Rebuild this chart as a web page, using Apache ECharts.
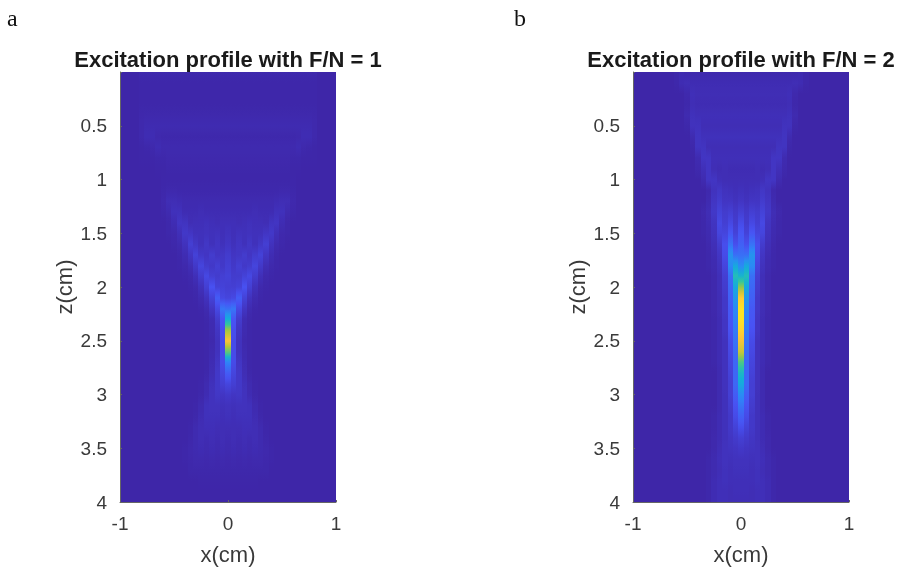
<!DOCTYPE html>
<html>
<head>
<meta charset="utf-8">
<script src="https://cdn.jsdelivr.net/npm/echarts@6/dist/echarts.min.js"></script>
<style>
html,body{margin:0;padding:0;background:#fff}
#chart{width:900px;height:570px;filter:blur(0.6px)}
</style>
</head>
<body>
<div id="chart"></div>
<script>
// depth of each row (cm); every row below is centred on x = 0 with 0.05 cm columns
const depthRows = [0,0.1,0.2,0.3,0.4,0.5,0.6,0.7,0.8,0.9,1,1.1,1.2,1.3,1.4,1.5,1.6,1.7,1.8,1.9,2,2.1,2.2,2.3,2.4,2.5,2.6,2.7,2.8,2.9,3,3.1,3.2,3.3,3.4,3.5,3.6,3.7,3.8,3.9,4];
const columnStep = 0.05;
const xTicks = [-1,0,1];
const titles = ['Excitation profile with F/N = 1','Excitation profile with F/N = 2'];
const panelLetters = ['a','b'];
const parula = ['#3e26a8','#4852f4','#2d87f7','#12b1d6','#37c897','#abc739','#fec338','#f9fb14'];

const profileA = [
[1,1,1,1,1,1,1,1,1,1,1,1,1,1,1,1,1,1,1,1,1,1,1,1,1,1,1,1,1,1,1,1,1],
[.3,.3,.3,.3,.3,.3,.3,.3,.3,.3,.3,.3,.3,.3,.3,.3,.3,.3,.3,.3,.3,.3,.3,.3,.3,.3,.3,.3,.3,.3,.3,.3,.3],
[.3,.3,.3,.3,.3,.3,.3,.3,.3,.3,.3,.3,.3,.3,.3,.3,.3,.3,.3,.3,.3,.3,.3,.3,.3,.3,.3,.3,.3,.3,.3,.3,.3],
[.3,.3,.3,.3,.3,.3,.3,.3,.3,.3,.3,.3,.3,.3,.3,.3,.3,.3,.3,.3,.3,.3,.3,.3,.3,.3,.3,.3,.3,.3,.3,.3,.3],
[.8,1,1,1,1,1,1,1,1,1,1,1,1,1,1,1,1,1,1,1,1,1,1,1,1,1,1,1,1,1,1,1,.8],
[1,1.7,1.7,1.7,1.7,1.7,1.7,1.7,1.7,1.7,1.7,1.7,1.7,1.7,1.7,1.7,1.7,1.7,1.7,1.7,1.7,1.7,1.7,1.7,1.7,1.7,1.7,1.7,1.7,1.7,1.7,1.7,1],
[1,2,2,1,.7,.7,.7,.7,.7,.7,.7,.7,.7,.7,.7,.7,.7,.7,.7,.7,.7,.7,.7,.7,.7,.7,.7,.7,.7,1,2,2,1],
[.2,.5,1,2,1.4,1.4,1.4,1.4,1.4,1.4,1.4,1.4,1.4,1.4,1.4,1.4,1.4,1.4,1.4,1.4,1.4,1.4,1.4,1.4,1.4,1.4,1.4,1.4,1.4,2,1,.5,.2],
[.2,.2,.2,.5,.5,1,1,1,1,1,1,1,1,1,1,1,1,1,1,1,1,1,1,1,1,1,1,1,.5,.5,.2,.2,.2],
[.2,.2,.5,.5,.5,.5,.5,.5,.5,.5,.5,.5,.5,.5,.5,.5,.5,.5,.5,.5,.5,.5,.5,.5,.5,.2,.2],
[.3,.3,.3,.3,.3,.3,.3,.3,.3,.3,.3,.3,.3,.3,.3,.3,.3,.3,.3,.3,.3,.3,.3,.3,.3],
[.5,1,1,.7,.7,.7,.7,.7,.7,.7,.7,.7,.7,.7,.7,.7,.7,.7,.7,.7,.7,.7,1,1,.5],
[1,2.5,2.5,2,1.5,1.5,1.5,1.5,1.5,1.5,1.5,1.5,1.5,1.5,1.5,1.5,1.5,1.5,1.5,1.5,1.5,2,2.5,2.5,1],
[.5,1.5,3.5,3.5,2,2,2,2.5,2,2,2,2,2,2,2,2,2,2.5,2,2,2,3.5,3.5,1.5,.5],
[.5,2,5,4.5,2.5,3,3,3.5,3,2.5,3,3,3,2.5,3,3.5,3,3,2.5,4.5,5,2,.5],
[.5,1,3,6,5,3.5,3.5,4,3.5,4,3,4,3,4,3.5,4,3.5,3.5,5,6,3,1,.5],
[.5,1.5,4,8,5.5,3.5,5.5,3.5,5,3.5,5,3.5,5,3.5,5.5,3.5,5.5,8,4,1.5,.5],
[.5,2,5,9,6,5,7,5,5.5,7,5,5.5,7,5,7,9,5,2,.5],
[.3,1,2.5,6,10,7,6,8,6,8,6,8,6,7,10,6,2.5,1,.3],
[.3,1,3,7,11,8,7,8,9,7,7,9,11,7,3,1,.3],
[.3,1,3.5,8,14,9,9,8,8,9,14,8,3.5,1,.3],
[.3,1.5,4,9,17,11,10,11,17,9,4,1.5,.3],
[.3,1.5,5,11,24,22,24,11,5,1.5,.3],
[.5,2,7,15,42,15,7,2,.5],
[.3,1.5,5,13,70,13,5,1.5,.3],
[.3,1,4,12,85,12,4,1,.3],
[.3,1.5,4,12,62,12,4,1.5,.3],
[.3,2,5,12,28,12,5,2,.3],
[.5,2.5,6,10,17,10,6,2.5,.5],
[.3,1.5,3.5,6,8,10,8,6,3.5,1.5,.3],
[.5,2,4,5.5,5,6,5,5.5,4,2,.5],
[.3,1.5,3.5,4,4,3.5,4,3.5,4,4,3.5,1.5,.3],
[.5,2,3.5,3.5,3.5,3,3.5,3,3.5,3.5,3.5,2,.5],
[.3,1.5,2.5,3,3,2.5,2.5,2.5,2.5,2.5,3,3,2.5,1.5,.3],
[.5,1.5,2.5,2,2.5,2,2.5,2,2.5,2,2.5,2,2.5,1.5,.5],
[.3,1,1.5,2,1.5,2,1.5,2,1.5,2,1.5,2,1.5,2,1.5,1,.3],
[.3,.8,1.2,1.2,1,1.2,1,1.2,1,1.2,1,1.2,1,1.2,1.2,.8,.3],
[.5,.5,.5,.5,.5,.5,.5,.5,.5,.5,.5,.5,.5,.5,.5],
[.2,.2,.2,.2,.2,.2,.2,.2,.2,.2,.2],
[0],
[0]
];

const profileB = [
[.5,1.5,1,1,1,1,1,1,1,1,1,1,1,1,1,1,1,1,1,1,1,1,1,1.5,.5],
[.5,2,2.5,2,2,2,2,2,2,2,2,2,2,2,2,2,2,2,2,2,2,2,2.5,2,.5],
[1,3,2.5,2.5,2.5,2.5,2.5,2.5,2.5,2.5,2.5,2.5,2.5,2.5,2.5,2.5,2.5,2.5,2.5,3,1],
[.5,2.5,2,2,2,2,2,2,2,2,2,2,2,2,2,2,2,2,2,2.5,.5],
[1.5,3.5,3,3,3,3,3,3,3,3,3,3,3,3,3,3,3,3,3,3.5,1.5],
[.5,4,4,2.5,2.5,2.5,2.5,2.5,2.5,2.5,2.5,2.5,2.5,2.5,2.5,2.5,2.5,2.5,4,4,.5],
[1.5,4.5,3.5,3.5,3.5,3.5,3.5,3.5,3.5,3.5,3.5,3.5,3.5,3.5,3.5,3.5,3.5,4.5,1.5],
[.5,4.5,4.5,2.5,2.5,2.5,2.5,2.5,2.5,2.5,2.5,2.5,2.5,2.5,2.5,2.5,4.5,4.5,.5],
[1.5,5,5,3,3,3,3,3,3,3,3,3,3,3,5,5,1.5],
[1,3,5,2.5,2,2.5,2,2,2,2,2,2.5,2,2.5,5,3,1],
[1.5,5,5,3,2.5,2.5,2.5,2.5,2.5,2.5,2.5,3,5,5,1.5],
[1,4,5.5,4,3.5,3,3.5,3,3.5,4,5.5,4,1],
[1.5,5,7,5,5,4,5,4,5,5,7,5,1.5],
[1,2.5,6,9,7,8,6,8,6,8,7,9,6,2.5,1],
[.5,2,4.5,11,8,11,7,12,7,11,8,11,4.5,2,.5],
[.5,1.5,4,10,10,15,9,15,9,15,10,10,4,1.5,.5],
[1,3,7,13,23,13,18,13,23,13,7,3,1],
[.5,2,5,12,33,22,22,22,33,12,5,2,.5],
[.5,1.5,4,10,30,40,30,40,30,10,4,1.5,.5],
[1,3,8,22,50,45,50,22,8,3,1],
[1,3,7,20,40,68,40,20,7,3,1],
[1,2.5,6,18,34,88,34,18,6,2.5,1],
[1,2.5,6,16,29,94,29,16,6,2.5,1],
[.5,2,5,15,27,94,27,15,5,2,.5],
[.5,2,5,14,25,90,25,14,5,2,.5],
[.5,2,4,12,23,84,23,12,4,2,.5],
[.5,2,4,11,21,76,21,11,4,2,.5],
[.5,2,4,10,20,60,20,10,4,2,.5],
[1.5,4,9,20,47,20,9,4,1.5],
[1.5,4,8,20,40,20,8,4,1.5],
[1.5,3.5,8,17,30,17,8,3.5,1.5],
[1.5,3.5,7,14,24,14,7,3.5,1.5],
[.5,2,3.5,6,12,18,12,6,3.5,2,.5],
[.5,2,3.5,6,9,13,9,6,3.5,2,.5],
[1,2,3.5,5,6.5,8,6.5,5,3.5,2,1],
[1,2.5,4,4.5,5,6,5,4.5,4,2.5,1],
[.5,1.5,3,4,3.5,4,4,4,3.5,4,3,1.5,.5],
[.5,1.5,2.5,3.5,3,3.5,3.5,3.5,3,3.5,2.5,1.5,.5],
[.5,2,3,3.5,3,3,3,3,3,3.5,3,2,.5],
[.5,2,3,3,2.5,3,3,3,2.5,3,3,2,.5],
[.5,2,3,3,2.5,2.5,2.5,2.5,2.5,3,3,2,.5]
];

function buildCells(rows) {
  const cells = [];
  for (let i = 0; i < rows.length - 1; i++) {
    const a = rows[i], b = rows[i + 1];
    const ha = (a.length - 1) / 2, hb = (b.length - 1) / 2, h = Math.max(ha, hb);
    for (let k = -h; k <= h; k++) {
      const va = Math.abs(k) <= ha ? a[k + ha] : 0;
      const vb = Math.abs(k) <= hb ? b[k + hb] : 0;
      if (va === 0 && vb === 0) continue;
      cells.push([k * columnStep, depthRows[i], depthRows[i + 1], va, vb]);
    }
  }
  return cells;
}
const colorOf = v => echarts.color.lerp(v / 100, parula);

function renderCell(params, api) {
  const x = api.value(0), z0 = api.value(1), z1 = api.value(2), v0 = api.value(3), v1 = api.value(4);
  const p0 = api.coord([x - columnStep / 2, z0]);
  const p1 = api.coord([x + columnStep / 2, z1]);
  const left = Math.round(p0[0]), right = Math.round(p1[0]), top = Math.round(p0[1]), bottom = Math.round(p1[1]);
  return {
    type: 'rect',
    shape: { x: left, y: top, width: right - left, height: bottom - top },
    style: {
      fill: new echarts.graphic.LinearGradient(0, 0, 0, 1, [
        { offset: 0, color: colorOf(v0) },
        { offset: 0.5, color: colorOf((v0 + v1) / 2) },
        { offset: 1, color: colorOf(v1) }
      ])
    }
  };
}

const plotLeft = [120, 633];
const plotCentre = [228, 741];
const letterLeft = [7, 514];
const axisColor = '#3a3a3a';
const sans = '"Liberation Sans", Arial, sans-serif';

const chart = echarts.init(document.getElementById('chart'), null, { renderer: 'canvas' });
chart.setOption({
  animation: false,
  backgroundColor: '#fff',
  title: [
    ...titles.map((t, i) => ({
      text: t, left: plotCentre[i], top: 50, padding: 0, textAlign: 'center',
      textStyle: { fontFamily: sans, fontWeight: 'bold', fontSize: 22, color: '#1a1a1a' }
    })),
    ...panelLetters.map((t, i) => ({
      text: t, left: letterLeft[i], top: 8, padding: 0,
      textStyle: { fontFamily: '"Liberation Serif", serif', fontWeight: 'normal', fontSize: 24, color: '#111' }
    }))
  ],
  grid: plotLeft.map(l => ({
    left: l, top: 72, width: 216, height: 430, show: true, outerBoundsMode: 'none',
    backgroundColor: parula[0], borderWidth: 0
  })),
  xAxis: plotLeft.map((l, i) => ({
    type: 'value', gridIndex: i, position: 'bottom', min: xTicks[0], max: xTicks[2], interval: 1,
    name: 'x(cm)', nameLocation: 'middle', nameGap: 43,
    nameTextStyle: { fontFamily: sans, fontSize: 22, color: axisColor },
    axisLine: { show: true, onZero: false, lineStyle: { color: '#666', width: 1 } },
    axisTick: { show: true, inside: true, length: 2, lineStyle: { color: '#666' } },
    axisLabel: { fontFamily: sans, fontSize: 19, color: axisColor, margin: 13 },
    splitLine: { show: false }
  })),
  yAxis: plotLeft.map((l, i) => ({
    type: 'value', gridIndex: i, position: 'left', inverse: true, min: 0, max: 4, interval: 0.5,
    name: 'z(cm)', nameLocation: 'middle', nameGap: 40, nameRotate: 90,
    nameTextStyle: { fontFamily: sans, fontSize: 22, color: axisColor },
    axisLine: { show: true, onZero: false, lineStyle: { color: '#666', width: 1 } },
    axisTick: { show: true, inside: true, length: 2, lineStyle: { color: '#666' } },
    axisLabel: {
      margin: 13,
      formatter: v => v === 0 ? '' : '{t|' + v + '}',
      rich: { t: { fontFamily: sans, fontSize: 19, color: axisColor, padding: [3, 0, 0, 0] } }
    },
    splitLine: { show: false }
  })),
  series: [profileA, profileB].map((rows, i) => ({
    type: 'custom', xAxisIndex: i, yAxisIndex: i, coordinateSystem: 'cartesian2d',
    clip: true, silent: true, renderItem: renderCell,
    encode: { x: 0, y: [1, 2] },
    data: buildCells(rows)
  }))
});
</script>
</body>
</html>
